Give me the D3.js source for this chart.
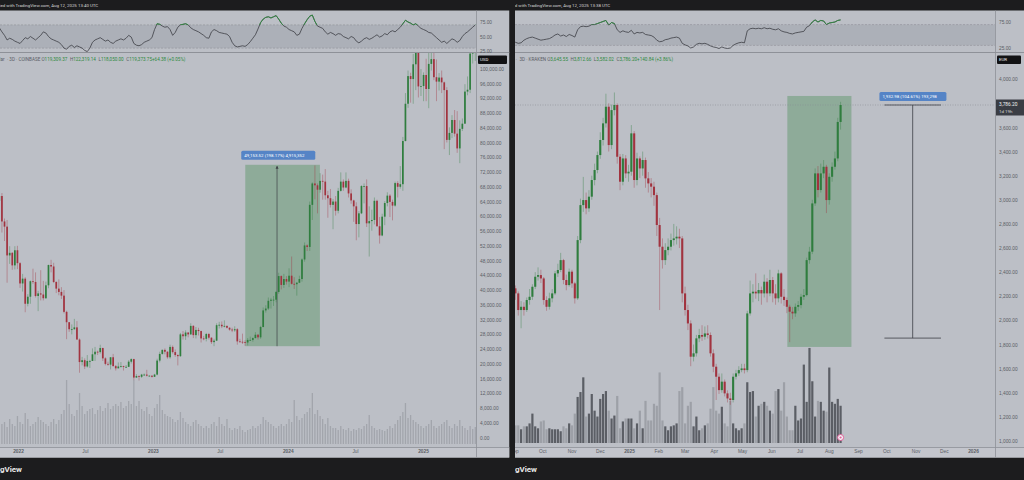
<!DOCTYPE html>
<html>
<head>
<meta charset="utf-8">
<script src="https://cdn.jsdelivr.net/npm/d3@7"></script>
<style>
  body { margin: 0; background: #1c1c1e; }
  svg { display: block; font-family: Roboto, "Liberation Sans", sans-serif; }
</style>
</head>
<body>
<svg id="chart" width="1024" height="480"></svg>
<script>
// ---- Left chart: BTC/USD, weekly candles starting 2021-11-08 (prices in thousands USD)
const btcFirstOpen = 64.2;
const btcClose = [
  65.5, 58.6, 57.2, 49.4, 50.1, 46.7, 50.8, 47.3,
  41.8, 43.1, 36.3, 38.2, 42.4, 42.2, 38.4, 39.1, 38.8, 37.8, 41.3, 46.8, 46.4,
  42.2, 40.4, 39.5, 38.5, 34.1, 31.3, 29.4, 29.4, 29.9, 26.6, 20.5, 21.0, 19.3,
  20.8, 20.8, 22.6, 23.3, 23.2, 24.3, 21.5, 20.0, 19.8, 21.8, 19.4, 18.8, 19.3,
  19.4, 19.2, 19.2, 20.6, 21.3, 16.3, 16.7, 16.5, 17.1, 17.1, 16.8, 16.8, 16.5,
  17.1, 20.9, 22.7, 23.8, 23.3, 21.8, 24.6, 23.2, 22.4, 22.1, 28.0, 27.5, 28.5,
  28.0, 30.3, 27.8, 29.2, 28.9, 26.9, 26.8, 28.1, 27.1, 25.9, 26.3, 30.5, 30.6,
  30.2, 30.3, 29.8, 29.3, 29.1, 29.4, 26.1, 26.0, 25.9, 25.8, 26.5, 26.5, 27.0,
  27.9, 27.2, 30.0, 34.5, 35.0, 37.1, 37.4, 37.4, 39.5, 43.8, 41.4, 43.0, 42.3,
  43.9, 41.7, 41.6, 42.0, 43.0, 48.3, 52.1, 51.7, 63.1, 68.9, 68.4, 67.2, 69.6,
  69.4, 65.7, 64.9, 63.1, 64.0, 61.5, 66.9, 69.4, 67.8, 69.6, 66.2, 64.3, 62.7,
  57.9, 60.8, 68.2, 68.2, 58.1, 58.7, 59.0, 64.2, 57.3, 54.8, 59.9, 63.6, 65.6, 63.9,
  62.9, 69.0, 68.0, 68.7, 80.4, 90.5, 98.0, 97.2, 101.2, 104.5, 95.2, 95.3, 98.3,
  94.5, 101.3, 102.6, 97.7, 96.5, 97.6, 96.3, 94.2, 80.7, 82.6, 86.1, 82.4, 78.4,
  83.7, 85.1, 93.8, 94.3, 104.1, 106.5, 109.0
];
const btcHigh = [
  69.0, 66.3, 59.4, 59.0, 51.9, 50.3, 51.9, 52.0,
  47.6, 44.4, 43.5, 38.9, 42.6, 45.8, 44.8, 39.8, 45.4, 42.5, 42.3, 46.9, 48.2,
  47.4, 42.4, 42.9, 40.8, 40.0, 34.4, 31.3, 30.7, 32.2, 31.6, 26.9, 21.9, 21.5,
  22.4, 21.1, 24.2, 24.6, 23.6, 25.2, 24.4, 21.8, 20.6, 21.8, 22.7, 19.7, 20.4,
  20.5, 19.5, 19.7, 21.0, 21.5, 21.4, 17.2, 16.9, 17.3, 17.4, 18.4, 16.9, 16.9,
  17.3, 21.4, 23.3, 23.9, 24.2, 23.4, 25.2, 25.0, 23.9, 22.6, 28.4, 28.9, 29.1,
  28.6, 31.0, 30.5, 30.0, 29.8, 29.0, 27.6, 28.4, 28.4, 27.2, 26.8, 31.0, 31.4,
  31.5, 31.8, 30.4, 29.9, 29.8, 30.2, 29.7, 26.8, 28.2, 26.4, 27.0, 27.4, 27.2,
  28.6, 28.1, 30.3, 35.3, 35.9, 38.0, 37.9, 38.4, 39.7, 44.7, 44.0, 44.4, 43.8,
  45.9, 49.1, 43.5, 42.2, 43.9, 48.6, 52.9, 52.4, 64.0, 69.2, 73.8, 68.9, 71.7,
  71.3, 72.8, 66.9, 67.4, 64.7, 65.5, 67.7, 71.9, 70.0, 71.9, 70.2, 67.3, 64.5,
  63.8, 61.4, 68.4, 68.9, 70.0, 62.7, 61.8, 65.1, 64.5, 59.8, 60.7, 64.1, 66.5, 66.0,
  64.5, 69.4, 69.5, 73.6, 81.5, 93.4, 99.5, 98.9, 104.0, 106.5, 108.3, 99.9, 99.0,
  102.7, 106.0, 109.6, 106.5, 102.5, 98.8, 99.5, 96.5, 95.0, 84.1, 87.4, 88.8, 88.5,
  86.0, 86.5, 95.8, 97.9, 104.3, 107.1, 111.9
];
const btcLow = [
  62.3, 55.6, 53.3, 42.0, 47.1, 45.5, 45.6, 45.7,
  40.6, 39.6, 34.0, 35.6, 36.3, 41.7, 38.0, 34.3, 37.2, 37.2, 37.6, 40.5, 44.8,
  41.9, 39.2, 38.6, 37.6, 33.7, 26.7, 28.7, 28.0, 29.3, 26.6, 17.6, 19.6, 18.6,
  19.0, 18.9, 20.8, 20.8, 22.4, 22.8, 20.8, 19.6, 19.5, 18.5, 19.3, 18.2, 18.8,
  19.0, 18.2, 18.9, 19.2, 20.1, 15.6, 16.2, 15.5, 16.2, 16.8, 16.6, 16.6, 16.3,
  16.5, 16.9, 20.4, 22.5, 22.6, 21.4, 21.4, 22.8, 21.9, 19.6, 21.9, 26.6, 26.5,
  27.2, 27.9, 27.0, 26.9, 27.7, 25.8, 26.4, 26.1, 26.6, 25.4, 24.8, 26.2, 29.6,
  29.7, 29.9, 29.6, 29.0, 28.6, 28.7, 25.2, 25.8, 25.4, 24.9, 25.0, 26.3, 26.0,
  26.9, 26.6, 26.8, 29.9, 33.9, 34.6, 35.0, 35.7, 36.7, 39.0, 40.2, 40.6, 41.5,
  40.8, 41.5, 40.3, 38.5, 41.9, 42.3, 47.7, 50.6, 50.6, 59.0, 64.6, 60.8, 66.4,
  64.5, 64.5, 59.6, 62.4, 56.5, 60.2, 60.8, 66.7, 66.9, 67.6, 65.1, 63.4, 58.5,
  53.5, 54.3, 60.6, 63.5, 57.1, 49.1, 56.1, 57.8, 57.2, 52.6, 54.6, 57.6, 62.7, 59.8,
  58.9, 62.6, 65.1, 67.5, 66.9, 80.3, 89.4, 90.8, 90.5, 94.2, 92.2, 92.6, 91.2,
  91.2, 89.3, 99.5, 96.9, 91.2, 94.1, 93.4, 78.2, 80.0, 76.6, 81.2, 81.6, 77.2,
  74.4, 83.1, 85.1, 92.8, 93.4, 101.4, 102.1
];
const btcVolume = [
  18, 20, 22, 17, 25, 20, 18, 28, 22, 20,
  31, 25, 18, 20, 22, 27, 24, 22, 20, 18,
  22, 25, 20, 24, 30, 34, 64, 40, 30, 28,
  34, 51, 38, 30, 33, 35, 36, 30, 34, 38,
  33, 36, 41, 35, 38, 40, 38, 42, 36, 38,
  43, 40, 64, 38, 43, 35, 33, 37, 30, 28,
  36, 40, 49, 34, 30, 28, 27, 25, 22, 24,
  32, 26, 22, 20, 18, 22, 24, 20, 18, 16,
  18, 16, 20, 22, 18, 27, 20, 18, 25, 16,
  14, 16, 15, 18, 14, 12, 14, 15, 18, 16,
  18, 20, 27, 24, 22, 20, 18, 16, 18, 20,
  18, 20, 25, 22, 44, 28, 24, 26, 30, 32,
  36, 51, 30, 34, 28, 25, 20, 26, 18, 16,
  16, 14, 18, 15, 14, 16, 13, 15, 14, 16,
  15, 18, 20, 29, 18, 16, 14, 15, 14, 13,
  15, 18, 16, 20, 24, 28, 32, 41, 26, 29,
  24, 22, 20, 18, 16, 18, 20, 24, 18, 16,
  18, 20, 22, 24, 18, 16, 20, 18, 24, 18,
  16, 14, 18, 15, 17
];
const btcRsi = [
  65, 58, 52, 44, 47, 45, 42, 40, 38, 43, 48, 46, 50, 47, 44,
  48, 52, 58, 56, 50, 46, 44, 42, 40, 36, 30, 28, 33, 35, 31,
  34, 32, 30, 26, 24, 30, 40, 44, 46, 48, 45, 42, 44, 40, 38,
  42, 44, 46, 44, 47, 52, 49, 38, 35, 34, 36, 40, 42, 44, 48,
  62, 72, 71, 68, 66, 67, 62, 52, 57, 66, 70, 71, 72, 70, 65,
  62, 60, 58, 55, 52, 48, 47, 58, 62, 60, 57, 56, 55, 54, 50,
  40, 34, 32, 33, 34, 33, 36, 41, 47, 53, 63, 74, 80, 83, 84,
  82, 84, 86, 80, 73, 68, 66, 62, 60, 58, 52, 54, 64, 72, 79,
  85, 87, 76, 68, 66, 64, 58, 54, 57, 55, 52, 55, 54, 50, 48,
  46, 50, 48, 42, 39, 42, 46, 48, 45, 47, 50, 53, 49, 51, 55,
  53, 58, 60, 58, 62, 66, 72, 78, 75, 73, 70, 72, 68, 64, 62,
  60, 57, 56, 52, 48, 44, 40, 42, 38, 42, 46, 44, 40, 43, 50,
  55, 58, 62, 66, 70
];
const btcPriceTicks = [0, 4, 8, 12, 16, 20, 24, 28, 32, 36, 40, 44, 48, 52,
  56, 60, 64, 68, 72, 76, 80, 84, 88, 92, 96, 100];
const btcTimeTicks = ["2022-01-01", "2022-07-01", "2023-01-01", "2023-07-01",
  "2024-01-01", "2024-07-01", "2025-01-01"];
const btcTimeLabels = ["2022", "Jul", "2023", "Jul", "2024", "Jul", "2025"];
const btcRangeDates = ["2023-09-08", "2023-12-03", "2024-03-28"];
const btcRangePrices = [24.80, 73.96];

// ---- Right chart: ETH/EUR, 3-day candles starting 2024-08-29
const ethFirstOpen = 2290;
const ethClose = [
  2266, 2224, 2086, 2113, 2086, 2169, 2196, 2279, 2362, 2376,
  2348, 2169, 2113, 2183, 2224, 2390, 2418, 2500, 2335, 2293,
  2404, 2307, 2183, 2666, 2956, 2998, 2929, 3026, 3164, 3247,
  3371, 3496, 3634, 3772, 3454, 3744, 3786, 3357, 3150, 3343,
  3219, 3233, 3551, 3164, 3343, 3260, 3330, 3178, 3136, 3109,
  3039, 2791, 2611, 2500, 2583, 2611, 2666, 2680, 2694, 2680,
  2224, 2086, 1975, 1699, 1727, 1851, 1879, 1865, 1892, 1879,
  1727, 1616, 1533, 1422, 1492, 1395, 1353, 1340, 1533, 1561,
  1588, 1602, 1588, 2058, 2224, 2238, 2224, 2252, 2224, 2321,
  2224, 2335, 2224, 2183, 2390, 2196, 2169, 2113, 2072, 2058,
  2113, 2127, 2196, 2210, 2500, 2570, 2970, 3219, 3081, 3219,
  3274, 2998, 3191, 3274, 3343, 3645.55, 3786.2
];
const ethHigh = [
  2330, 2290, 2240, 2160, 2150, 2190, 2260, 2300, 2400, 2440,
  2420, 2360, 2200, 2230, 2260, 2410, 2470, 2560, 2510, 2380,
  2430, 2420, 2320, 2700, 3010, 3190, 3060, 3080, 3200, 3300,
  3400, 3560, 3680, 3880, 3800, 3790, 3890, 3800, 3380, 3380,
  3370, 3290, 3620, 3570, 3390, 3360, 3400, 3350, 3230, 3180,
  3150, 3060, 2850, 2680, 2640, 2680, 2720, 2800, 2780, 2760,
  2700, 2280, 2130, 2000, 1800, 1880, 1930, 1960, 1950, 1960,
  1900, 1760, 1640, 1560, 1560, 1510, 1420, 1400, 1560, 1590,
  1620, 1640, 1640, 2080, 2330, 2300, 2390, 2310, 2280, 2380,
  2350, 2420, 2360, 2300, 2420, 2400, 2260, 2190, 2130, 2110,
  2140, 2160, 2220, 2260, 2520, 2610, 3000, 3260, 3280, 3300,
  3330, 3290, 3220, 3310, 3400, 3680, 3812.66
];
const ethLow = [
  2220, 2170, 2040, 1935, 2040, 2070, 2130, 2170, 2260, 2330,
  2310, 2130, 2080, 2090, 2150, 2210, 2360, 2400, 2300, 2250,
  2280, 2270, 2140, 2170, 2640, 2900, 2880, 2900, 3000, 3120,
  3220, 3340, 3450, 3600, 3400, 3420, 3700, 3300, 3080, 3120,
  3180, 3150, 3200, 3100, 3120, 3180, 3200, 3100, 3060, 3020,
  2950, 2700, 2086, 2430, 2460, 2540, 2580, 2620, 2630, 2600,
  2150, 2040, 1920, 1620, 1660, 1700, 1820, 1830, 1840, 1850,
  1700, 1570, 1340, 1390, 1400, 1370, 1320, 1300, 1320, 1510,
  1540, 1570, 1560, 1570, 2040, 2150, 2180, 2160, 2130, 2190,
  2150, 2200, 2150, 2130, 2150, 2140, 2120, 2060, 1820, 2010,
  2030, 2080, 2100, 2170, 2200, 2470, 2550, 2950, 3020, 3060,
  3180, 2890, 2960, 3150, 3250, 3320, 3582.02
];
const ethVolume = [
  15, 18, 18, 14, 17, 17, 20, 30, 17, 15,
  22, 23, 14, 15, 14, 14, 14, 12, 17, 15,
  20, 18, 30, 47, 52, 67, 27, 30, 50, 33,
  27, 45, 50, 53, 33, 25, 28, 48, 15, 22,
  25, 25, 25, 15, 20, 33, 15, 43, 23, 23,
  40, 38, 72, 23, 17, 13, 17, 18, 20, 53,
  57, 20, 38, 42, 17, 27, 13, 15, 18, 20,
  35, 57, 33, 30, 37, 20, 17, 43, 20, 15,
  13, 15, 20, 62, 52, 53, 27, 38, 40, 42,
  38, 33, 30, 53, 55, 33, 62, 27, 13, 13,
  38, 23, 25, 80, 42, 97, 63, 27, 43, 42,
  33, 32, 77, 42, 40, 45, 38
];
const ethRsi = [
  38, 36, 34, 35, 40, 43, 45, 46, 44, 42,
  40, 41, 42, 43, 46, 50, 52, 48, 50, 47,
  51, 49, 46, 60, 66, 67, 66, 67, 70, 70,
  72, 74, 76, 78, 69, 74, 72, 60, 55, 58,
  56, 55, 59, 52, 55, 54, 55, 51, 50, 49,
  46, 40, 37, 38, 41, 42, 44, 45, 46, 44,
  34, 31, 29, 25, 27, 32, 34, 33, 34, 32,
  29, 27, 26, 24, 27, 25, 24, 25, 30, 33,
  35, 36, 35, 58, 62, 63, 62, 63, 62, 64,
  62, 63, 61, 60, 62, 58, 56, 55, 53, 52,
  54, 55, 56, 57, 65, 68, 75, 79, 75, 78,
  77, 70, 73, 74, 75, 78, 79
];
const ethPriceTicks = [1000, 1200, 1400, 1600, 1800, 2000, 2200, 2400, 2600,
  2800, 3000, 3200, 3400, 3600, 4000];
const ethTimeTicks = ["2024-09-01", "2024-10-01", "2024-11-01", "2024-12-01",
  "2025-01-01", "2025-02-01", "2025-03-01", "2025-04-01", "2025-05-01",
  "2025-06-01", "2025-07-01", "2025-08-01", "2025-09-01", "2025-10-01",
  "2025-11-01", "2025-12-01", "2026-01-01"];
const ethTimeLabels = ["Sep", "Oct", "Nov", "Dec", "2025", "Feb", "Mar", "Apr",
  "May", "Jun", "Jul", "Aug", "Sep", "Oct", "Nov", "Dec", "2026"];
const ethBoxDates = ["2025-06-18", "2025-08-25"];
const ethBoxPrices = [1780, 3861];
const ethMeasureDates = ["2025-09-29", "2025-10-29", "2025-11-28"];
const ethMeasurePrices = [1853.22, 3786.2];

// ---- shared helpers
const DAY = 864e5;
const parse = d3.utcParse("%Y-%m-%d");
const fmt2 = d3.format(",.2f");
const svg = d3.select("#chart");
const defs = svg.append("defs");

const PANE = "#bcbfc6";
const LINE = "#8e9198";
const TXT = "#5a5d65";
const UP = "#2f7d3e";
const DOWN = "#a1333f";

function buildCandles(firstOpen, close, high, low, dateOf) {
  return close.map((c, i) => {
    const o = i === 0 ? firstOpen : close[i - 1];
    return { date: dateOf(i), o, c, h: Math.max(high[i], o, c), l: Math.min(low[i], o, c) };
  });
}

function clip(id, x, y, w, h) {
  defs.append("clipPath").attr("id", id)
    .append("rect").attr("x", x).attr("y", y).attr("width", w).attr("height", h);
  return `url(#${id})`;
}

function drawPanel(p) {
  const g = svg.append("g").attr("clip-path", clip(p.id + "-all", p.x0, 0, p.x1 - p.x0, 480));
  const plotW = p.plotR - p.x0;

  // panel background
  g.append("rect").attr("x", p.x0).attr("y", 10.5).attr("width", p.x1 - p.x0).attr("height", 447)
    .attr("fill", PANE);
  g.append("rect").attr("x", p.x0).attr("y", 447.5).attr("width", p.x1 - p.x0).attr("height", 10)
    .attr("fill", "#c3c5cc");

  // header & footer text
  g.append("text").attr("x", p.headerX).attr("y", 7).attr("fill", "#d8d8d8")
    .attr("font-size", 4.4).text(p.header);
  g.append("text").attr("x", p.brandX).attr("y", 472).attr("text-anchor", "end")
    .attr("fill", "#e8e8e8").attr("font-size", 8).attr("font-weight", "bold").text("TradingView");

  // RSI pane
  const rsiG = g.append("g").attr("clip-path", clip(p.id + "-rsi", p.x0, 11, plotW, 41));
  rsiG.append("rect").attr("x", p.x0).attr("width", plotW)
    .attr("y", p.rsiY(70)).attr("height", p.rsiY(30) - p.rsiY(70))
    .attr("fill", "rgba(95,100,115,0.16)");
  [70, 30].forEach(v => {
    rsiG.append("line").attr("x1", p.x0).attr("x2", p.plotR)
      .attr("y1", p.rsiY(v)).attr("y2", p.rsiY(v))
      .attr("stroke", LINE).attr("stroke-width", 0.6).attr("stroke-dasharray", "2,1.5");
  });
  const rsiLine = d3.line().x((d, i) => p.x(p.center(i))).y(d => p.rsiY(d));
  rsiG.append("path").attr("d", rsiLine(p.rsi)).attr("fill", "none")
    .attr("stroke", "#3c3e44").attr("stroke-width", 0.8);
  rsiG.append("path").attr("d", rsiLine(p.rsi)).attr("fill", "none")
    .attr("stroke", "#2f8a3e").attr("stroke-width", 0.9)
    .attr("clip-path", clip(p.id + "-ob", p.x0, 0, plotW, p.rsiY(70)));

  // main pane
  const main = g.append("g").attr("clip-path", clip(p.id + "-main", p.x0, 53, plotW, 394));
  main.selectAll(".vol").data(p.volume).join("rect")
    .attr("x", (d, i) => p.x(p.center(i)) - p.volW / 2)
    .attr("width", p.volW)
    .attr("y", d => p.volY(d))
    .attr("height", d => p.volY(0) - p.volY(d))
    .attr("fill", (d, i) => p.volColor(p.candles[i]));

  if (p.box) p.box(main);

  main.selectAll(".wick").data(p.candles).join("line")
    .attr("x1", d => p.x(d.date)).attr("x2", d => p.x(d.date))
    .attr("y1", d => p.y(d.h)).attr("y2", d => p.y(d.l))
    .attr("stroke", d => d.c >= d.o ? UP : DOWN).attr("stroke-opacity", 0.55)
    .attr("stroke-width", 0.7);
  main.selectAll(".body").data(p.candles).join("rect")
    .attr("x", d => p.x(d.date) - p.bodyW / 2)
    .attr("width", p.bodyW)
    .attr("y", d => p.y(Math.max(d.o, d.c)))
    .attr("height", d => Math.max(0.8, Math.abs(p.y(d.o) - p.y(d.c))))
    .attr("fill", d => d.c >= d.o ? UP : DOWN);

  if (p.overlay) p.overlay(main);

  // legend row: symbol name ends at legendX, values follow
  g.append("text").attr("x", p.legendX).attr("y", 60.5).attr("font-size", 4.6)
    .attr("text-anchor", "end").attr("fill", TXT).text(p.legendName);
  const leg = g.append("text").attr("x", p.legendX + 2.5).attr("y", 60.5).attr("font-size", 4.6);
  p.legend.forEach(([k, v], i) => {
    leg.append("tspan").attr("fill", TXT).attr("dx", i ? 2.5 : 0).text(k);
    leg.append("tspan").attr("fill", "#2f8a3e").text(v);
  });

  // separators
  g.append("line").attr("x1", p.x0).attr("x2", p.x1).attr("y1", 52.5).attr("y2", 52.5)
    .attr("stroke", LINE).attr("stroke-width", 1);
  g.append("line").attr("x1", p.x0).attr("x2", p.x1).attr("y1", 447.5).attr("y2", 447.5)
    .attr("stroke", LINE).attr("stroke-width", 0.8);
  g.append("line").attr("x1", p.plotR + 0.5).attr("x2", p.plotR + 0.5).attr("y1", 10.5).attr("y2", 457.5)
    .attr("stroke", LINE).attr("stroke-width", 0.8);

  // price axis
  const ax = g.append("g").attr("transform", `translate(${p.plotR},0)`)
    .call(d3.axisRight(p.y).tickValues(p.priceTicks).tickFormat(p.priceFmt).tickSize(0).tickPadding(4));
  ax.select(".domain").remove();
  ax.selectAll("text").attr("font-size", 4.8).attr("fill", TXT).attr("font-family", null);

  const rax = g.append("g").attr("transform", `translate(${p.plotR},0)`)
    .call(d3.axisRight(p.rsiY).tickValues(p.rsiTicks).tickFormat(fmt2).tickSize(0).tickPadding(4));
  rax.select(".domain").remove();
  rax.selectAll("text").attr("font-size", 4.8).attr("fill", TXT).attr("font-family", null);

  // currency badge
  g.append("rect").attr("x", p.plotR + 2).attr("y", 55.5).attr("width", p.badgeW).attr("height", 8.5)
    .attr("rx", 1).attr("fill", "#121214");
  g.append("text").attr("x", p.plotR + 4).attr("y", 61.3).attr("font-size", 4.4)
    .attr("fill", "#f0f0f0").text(p.currency);

  // time axis
  const tx = g.append("g").attr("transform", "translate(0,450)")
    .call(d3.axisBottom(p.x).tickValues(p.timeTicks.map(parse))
      .tickFormat((d, i) => p.timeLabels[i]).tickSize(0).tickPadding(0));
  tx.select(".domain").remove();
  tx.selectAll("text").attr("font-size", 4.8).attr("fill", TXT).attr("font-family", null)
    .attr("font-weight", (d, i) => /^\d{4}$/.test(p.timeLabels[i]) ? "bold" : null);

  return g;
}

// ---- left panel
const btcStart = Date.UTC(2021, 10, 8);
const btcX = d3.scaleUtc().domain([parse("2022-01-01"), parse("2025-01-01")]).range([18, 423]);
const btcY = d3.scaleLinear().domain([0, 100]).range([437.7, 68.7]);
const btcCandles = buildCandles(btcFirstOpen, btcClose, btcHigh, btcLow,
  i => new Date(btcStart + (i * 7 + 3.5) * DAY));

drawPanel({
  id: "btc", x0: 0, x1: 509.5, plotR: 476,
  x: btcX, y: btcY,
  center: i => btcCandles[i].date,
  candles: btcCandles, volume: btcVolume, rsi: btcRsi,
  rsiY: d3.scaleLinear().domain([25, 75]).range([51, 22]),
  rsiTicks: [25, 50, 75],
  volY: d3.scaleLinear().domain([0, 100]).range([444, 344]),
  volW: 1.3, bodyW: 1.7,
  volColor: () => "#a2a5ac",
  priceTicks: btcPriceTicks, priceFmt: d => fmt2(d * 1000),
  timeTicks: btcTimeTicks, timeLabels: btcTimeLabels,
  header: "Created with TradingView.com, Aug 12, 2025 13:40 UTC", headerX: -10,
  brandX: 22,
  legendX: 4.5, legendName: "Bitcoin / U.S. Dollar",
  legend: [["\u00b7 3D \u00b7 COINBASE  O", "119,309.37"], ["H", "122,319.14"], ["L", "118,050.00"], ["C", "119,373.75"], ["", "+64.38 (+0.05%)"]],
  currency: "USD", badgeW: 29,
  box: m => {
    const [d0, dm, d1] = btcRangeDates.map(parse);
    const [lo, hi] = btcRangePrices;
    m.append("rect").attr("x", btcX(d0)).attr("width", btcX(d1) - btcX(d0))
      .attr("y", btcY(hi)).attr("height", btcY(lo) - btcY(hi))
      .attr("fill", "rgba(60,135,75,0.36)");
    m.append("line").attr("x1", btcX(dm)).attr("x2", btcX(dm))
      .attr("y1", btcY(lo)).attr("y2", btcY(hi) + 1.5)
      .attr("stroke", "#3d4046").attr("stroke-width", 0.7);
    m.append("path").attr("fill", "#3d4046")
      .attr("d", `M${btcX(dm) - 1.5},${btcY(hi) + 4} L${btcX(dm)},${btcY(hi) + 1} L${btcX(dm) + 1.5},${btcY(hi) + 4} Z`);
  },
  overlay: m => {
    const [d0] = btcRangeDates.map(parse);
    const hi = btcRangePrices[1];
    m.append("rect").attr("x", btcX(d0) - 4).attr("y", btcY(hi) - 14).attr("width", 74).attr("height", 9)
      .attr("rx", 1.5).attr("fill", "#5584c6");
    m.append("text").attr("x", btcX(d0) - 1).attr("y", btcY(hi) - 8).attr("font-size", 4.4)
      .attr("fill", "#fff").text("49,153.52 (198.17%) 4,915,352");
  }
});

// ---- right panel
const ethStart = Date.UTC(2024, 7, 29);
const ethX = d3.scaleUtc().domain([parse("2025-01-01"), parse("2026-01-01")]).range([629, 973]);
const ethY = d3.scaleLinear().domain([1000, 3786.2]).range([441, 105]);
const ethCandles = buildCandles(ethFirstOpen, ethClose, ethHigh, ethLow,
  i => new Date(ethStart + (i * 3 + 1.5) * DAY));
const ethLast = ethClose[ethClose.length - 1];

drawPanel({
  id: "eth", x0: 515, x1: 1024, plotR: 995,
  x: ethX, y: ethY,
  center: i => ethCandles[i].date,
  candles: ethCandles, volume: ethVolume, rsi: ethRsi,
  rsiY: d3.scaleLinear().domain([25, 75]).range([48, 22]),
  rsiTicks: [25, 75],
  volY: d3.scaleLinear().domain([0, 100]).range([443, 345]),
  volW: 2.2, bodyW: 2.1,
  volColor: c => c.c >= c.o ? "#5b5e65" : "#9da0a7",
  priceTicks: ethPriceTicks, priceFmt: fmt2,
  timeTicks: ethTimeTicks, timeLabels: ethTimeLabels,
  header: "Created with TradingView.com, Aug 12, 2025 13:38 UTC", headerX: 502,
  brandX: 537,
  legendX: 517, legendName: "Ethereum / Euro \u00b7",
  legend: [["3D \u00b7 KRAKEN  O", "3,645.55"], ["H", "3,812.66"], ["L", "3,582.02"], ["C", "3,786.20"], ["", "+140.84 (+3.86%)"]],
  currency: "EUR", badgeW: 24,
  box: m => {
    const [d0, d1] = ethBoxDates.map(parse);
    const [lo, hi] = ethBoxPrices;
    m.append("rect").attr("x", ethX(d0)).attr("width", ethX(d1) - ethX(d0))
      .attr("y", ethY(hi)).attr("height", ethY(lo) - ethY(hi))
      .attr("fill", "rgba(60,135,75,0.36)");
    m.append("line").attr("x1", 515).attr("x2", 995)
      .attr("y1", ethY(ethLast)).attr("y2", ethY(ethLast))
      .attr("stroke", "#8a8d94").attr("stroke-width", 0.6).attr("stroke-dasharray", "1,1.5");
  },
  overlay: m => {
    const [d0, dm, d1] = ethMeasureDates.map(parse);
    const [lo, hi] = ethMeasurePrices;
    const ln = (x1, y1, x2, y2) => m.append("line")
      .attr("x1", x1).attr("y1", y1).attr("x2", x2).attr("y2", y2)
      .attr("stroke", "#3d4046").attr("stroke-width", 0.8);
    ln(ethX(d0), ethY(hi), ethX(d1), ethY(hi));
    ln(ethX(d0), ethY(lo), ethX(d1), ethY(lo));
    ln(ethX(dm), ethY(hi), ethX(dm), ethY(lo));
    m.append("rect").attr("x", ethX(d0) - 5).attr("y", ethY(hi) - 13).attr("width", 67).attr("height", 9)
      .attr("rx", 1.5).attr("fill", "#5584c6");
    m.append("text").attr("x", ethX(d0) - 2).attr("y", ethY(hi) - 7).attr("font-size", 4.4)
      .attr("fill", "#fff").text("1,932.98 (104.61%) 193,298");
    // replay marker at the last bar
    const lx = ethX(ethCandles[ethCandles.length - 1].date);
    m.append("circle").attr("cx", lx).attr("cy", 437.5).attr("r", 3)
      .attr("fill", "#f3f3f5").attr("stroke", "#e2609a").attr("stroke-width", 1);
    m.append("circle").attr("cx", lx).attr("cy", 437.5).attr("r", 1.1).attr("fill", "#e2609a");
  }
});

// current price badge (right axis)
svg.append("rect").attr("x", 996).attr("y", ethY(ethLast) - 5.5).attr("width", 28).attr("height", 16)
  .attr("fill", "#3a3d44");
svg.append("text").attr("x", 999).attr("y", ethY(ethLast) + 1).attr("font-size", 4.8)
  .attr("fill", "#f2f2f2").text(fmt2(ethLast));
svg.append("text").attr("x", 999).attr("y", ethY(ethLast) + 8).attr("font-size", 4.4)
  .attr("fill", "#d8d8d8").text("1d 19h");
</script>
</body>
</html>
